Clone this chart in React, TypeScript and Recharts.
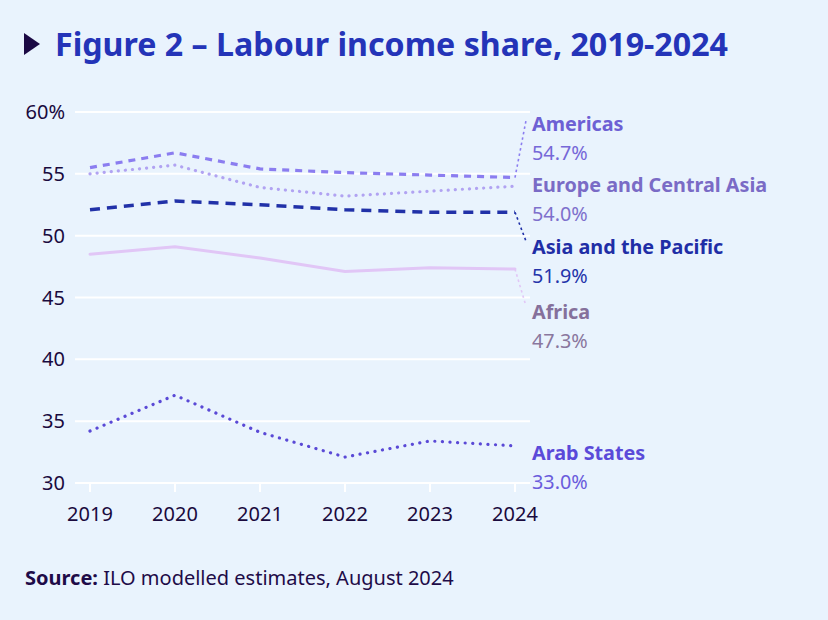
import React from 'react';
import { LineChart, Line, XAxis, YAxis, CartesianGrid, LabelList } from 'recharts';

const years = ['2019', '2020', '2021', '2022', '2023', '2024'];
const americas = [55.5, 56.7, 55.4, 55.1, 54.9, 54.7];
const europeCentralAsia = [55.0, 55.7, 53.9, 53.2, 53.6, 54.0];
const asiaPacific = [52.1, 52.8, 52.5, 52.1, 51.9, 51.9];
const africa = [48.5, 49.1, 48.2, 47.1, 47.4, 47.3];
const arabStates = [34.2, 37.1, 34.1, 32.1, 33.4, 33.0];
const yTicks = [30, 35, 40, 45, 50, 55, 60];

const data = years.map((year, i) => ({
  year,
  americas: americas[i],
  europe: europeCentralAsia[i],
  asia: asiaPacific[i],
  africa: africa[i],
  arab: arabStates[i],
}));

type SeriesDef = {
  key: string;
  name: string;
  color: string;
  labelColor: string;
  valueColor: string;
  width: number;
  dash?: string;
  cap: 'round' | 'butt';
  labelDy: number;
};

const series: SeriesDef[] = [
  { key: 'americas', name: 'Americas', color: '#8b7df0', labelColor: '#6d60d4', valueColor: '#7668d8', width: 3.2, dash: '7 6', cap: 'butt', labelDy: -47 },
  { key: 'europe', name: 'Europe and Central Asia', color: '#b1a3f2', labelColor: '#7a6bc6', valueColor: '#7e70cc', width: 3.2, dash: '0.1 7', cap: 'round', labelDy: 6 },
  { key: 'asia', name: 'Asia and the Pacific', color: '#2131a8', labelColor: '#1f2ea6', valueColor: '#2434aa', width: 3.5, dash: '10 7', cap: 'butt', labelDy: 42 },
  { key: 'africa', name: 'Africa', color: '#e1c6f6', labelColor: '#85709b', valueColor: '#8a779e', width: 3, cap: 'round', labelDy: 50 },
  { key: 'arab', name: 'Arab States', color: '#5a49d6', labelColor: '#5a4ad9', valueColor: '#6a5cdc', width: 3.2, dash: '0.1 7.5', cap: 'round', labelDy: 14 },
];

const FONT = '"Noto Sans", "Open Sans", sans-serif';

const makeLabel = (s: SeriesDef) => (props: any) => {
  const { x, y, index, value } = props;
  if (index !== years.length - 1) return null;
  const baseline = y + s.labelDy;
  const tx = x + 17;
  const showConnector = Math.abs(s.labelDy) > 20;
  const endY = s.labelDy < 0 ? baseline - 10 : baseline - 13;
  return (
    <g>
      {showConnector && (
        <line x1={x} y1={y} x2={x + 11} y2={endY} stroke={s.color} strokeWidth={1.6} strokeDasharray="2.5 3" />
      )}
      <text x={tx} y={baseline} fill={s.labelColor} fontFamily={FONT} fontWeight={700} fontSize={19.8}>
        {s.name}
      </text>
      <text x={tx} y={baseline + 29} fill={s.valueColor} fontFamily={FONT} fontSize={19.8}>
        {`${Number(value).toFixed(1)}%`}
      </text>
    </g>
  );
};

export default function App() {
  return (
    <div style={{ position: 'fixed', left: 0, top: 0, width: 828, height: 620, background: '#e9f3fd', overflow: 'hidden' }}>
      <svg width={828} height={90} style={{ position: 'absolute', left: 0, top: 0 }}>
        <polygon points="24,33 24,55 40,44" fill="#1b0944" />
        <text
          x={55}
          y={56}
          fill="#2434b8"
          fontFamily={FONT}
          fontWeight={700}
          fontSize={33}
          textLength={673}
          lengthAdjust="spacingAndGlyphs"
        >
          Figure 2 – Labour income share, 2019-2024
        </text>
      </svg>
      <div style={{ position: 'absolute', left: 0, top: 0 }}>
        <LineChart width={828} height={620} data={data} margin={{ top: 112, right: 298, bottom: 97, left: 0 }}>
          <CartesianGrid vertical={false} stroke="#ffffff" strokeWidth={2} />
          <XAxis
            dataKey="year"
            axisLine={false}
            tickLine={{ stroke: '#ffffff', strokeWidth: 2 }}
            tickSize={9}
            tickMargin={15}
            padding={{ left: 15, right: 15 }}
            tick={{ fill: '#1a0a3e', fontSize: 20, fontFamily: FONT }}
            height={40}
          />
          <YAxis
            domain={[30, 60]}
            ticks={yTicks}
            axisLine={false}
            tickLine={false}
            tickSize={0}
            tickMargin={10}
            width={75}
            tick={{ fill: '#1a0a3e', fontSize: 20, fontFamily: FONT }}
            tickFormatter={(v: number) => (v === 60 ? '60%' : String(v))}
          />
          {series.map((s) => (
            <Line
              key={s.key}
              type="linear"
              dataKey={s.key}
              stroke={s.color}
              strokeWidth={s.width}
              strokeDasharray={s.dash}
              strokeLinecap={s.cap}
              dot={false}
              activeDot={false}
              isAnimationActive={false}
            >
              <LabelList dataKey={s.key} content={makeLabel(s)} />
            </Line>
          ))}
        </LineChart>
      </div>
      <div
        style={{
          position: 'absolute',
          left: 25,
          top: 564,
          fontFamily: FONT,
          fontSize: 20,
          color: '#1e0b48',
          whiteSpace: 'nowrap',
        }}
      >
        <b>Source:</b> ILO modelled estimates, August 2024
      </div>
    </div>
  );
}
